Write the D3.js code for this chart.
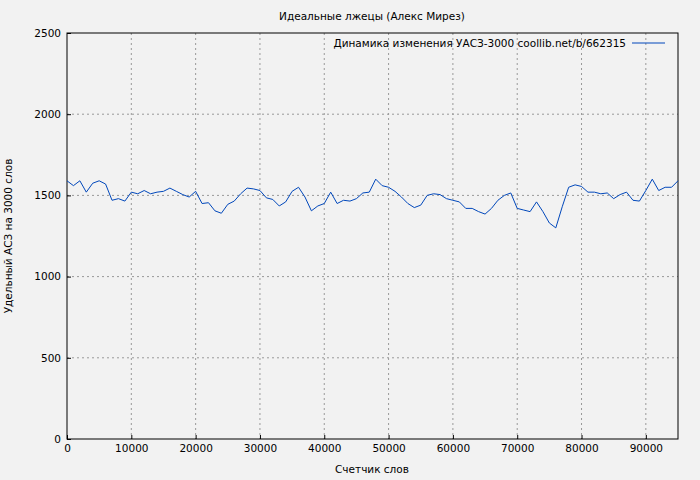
<!DOCTYPE html>
<html><head><meta charset="utf-8">
<script src="https://cdn.jsdelivr.net/npm/d3@7"></script>
<style>body{margin:0;background:#f2f2f2}text{font-family:"DejaVu Sans",sans-serif;font-size:10.5px}</style>
</head><body><svg id="c" width="700" height="480"></svg>
<script>
const xStep = 1000;
const values = [1590,1560,1590,1520,1575,1590,1570,1470,1480,1465,1520,1510,1530,1510,1520,1525,1545,1525,1505,1490,
1525,1450,1455,1405,1390,1445,1465,1510,1545,1540,1530,1485,1475,1435,1460,1525,1550,1490,1405,1435,
1450,1520,1450,1470,1465,1480,1515,1520,1600,1560,1550,1525,1490,1450,1425,1440,1500,1510,1505,1480,
1470,1460,1420,1420,1400,1385,1420,1470,1500,1515,1420,1410,1400,1460,1400,1330,1300,1430,1550,1565,
1555,1520,1520,1510,1515,1480,1505,1520,1470,1465,1530,1600,1530,1550,1550,1590];
const xTicks = d3.range(0, 90001, 10000);
const yTicks = [0,500,1000,1500,2000,2500];

const svg = d3.select('#c');
const m = {left:67, right:678, top:33, bottom:439};
const x = d3.scaleLinear().domain([0, 95000]).range([m.left, m.right]);
const y = d3.scaleLinear().domain([0, 2500]).range([m.bottom, m.top]);

// grid
svg.append('g').selectAll('line').data(xTicks.slice(1)).join('line')
  .attr('x1', d => x(d)).attr('x2', d => x(d)).attr('y1', m.top).attr('y2', m.bottom)
  .attr('stroke', '#999').attr('stroke-dasharray', '2,3');
svg.append('g').selectAll('line').data(yTicks.slice(1, -1)).join('line')
  .attr('y1', d => y(d)).attr('y2', d => y(d)).attr('x1', m.left).attr('x2', m.right)
  .attr('stroke', '#999').attr('stroke-dasharray', '2,3');

svg.append('rect').attr('x', m.left).attr('y', m.top).attr('width', m.right - m.left)
  .attr('height', m.bottom - m.top).attr('fill', 'none').attr('stroke', '#000');

const xa = svg.append('g').attr('transform', `translate(0,${m.bottom})`)
  .call(d3.axisBottom(x).tickValues(xTicks).tickFormat(d3.format('d')).tickSize(-4).tickPadding(6));
const ya = svg.append('g').attr('transform', `translate(${m.left},0)`)
  .call(d3.axisLeft(y).tickValues(yTicks).tickFormat(d3.format('d')).tickSize(-4).tickPadding(6));
[xa, ya].forEach(a => { a.select('.domain').remove(); a.selectAll('text').attr('fill', '#000').style('font-size', '10.5px').style('font-family', '"DejaVu Sans",sans-serif'); });

svg.append('path').datum(values)
  .attr('d', d3.line().x((d, i) => x(i * xStep)).y(d => y(d)))
  .attr('fill', 'none').attr('stroke', '#0047bb').attr('stroke-width', 1);

svg.append('text').attr('x', 372).attr('y', 20).attr('text-anchor', 'middle').text('Идеальные лжецы (Алекс Мирез)');
svg.append('text').attr('x', 372).attr('y', 473).attr('text-anchor', 'middle').text('Счетчик слов');
svg.append('text').attr('transform', 'translate(12,236) rotate(-90)').attr('text-anchor', 'middle').text('Удельный АСЗ на 3000 слов');

svg.append('text').attr('x', 626).attr('y', 47).attr('text-anchor', 'end').text('Динамика изменения УАСЗ-3000 coollib.net/b/662315');
svg.append('line').attr('x1', 632).attr('x2', 665).attr('y1', 43).attr('y2', 43).attr('stroke', '#0047bb');
</script></body></html>
